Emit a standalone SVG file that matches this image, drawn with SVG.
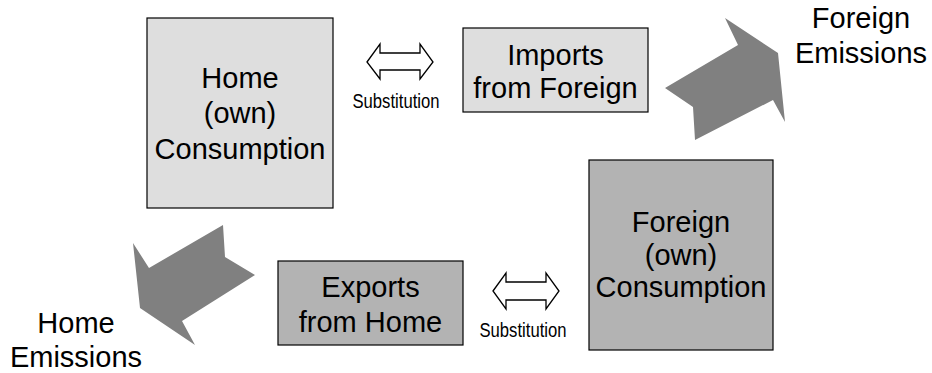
<svg xmlns="http://www.w3.org/2000/svg" width="932" height="373" viewBox="0 0 932 373">
<style>
.box{stroke:#000;stroke-width:1.2}
.light{fill:#dedede}
.dark{fill:#b3b3b3}
.big{fill:#808080;stroke:none}
.dbl{fill:#fff;stroke:#000;stroke-width:1.3;stroke-linejoin:miter}
text{font-family:"Liberation Sans",Arial,sans-serif;fill:#000;text-anchor:middle}
.t{font-size:29px}
.s{font-size:19.5px}
</style>
<rect width="932" height="373" fill="#fff"/>
<g id="home-consumption">
<rect class="box light" x="147" y="18" width="186" height="190"/>
<text class="t" x="240" y="88">Home</text>
<text class="t" x="240" y="123">(own)</text>
<text class="t" x="240" y="159">Consumption</text>
</g>
<g id="imports-from-foreign">
<rect class="box light" x="463" y="28" width="185" height="84"/>
<text class="t" x="555.5" y="65">Imports</text>
<text class="t" x="555.5" y="98">from Foreign</text>
</g>
<g id="foreign-consumption">
<rect class="box dark" x="589" y="160" width="184" height="190"/>
<text class="t" x="681" y="232">Foreign</text>
<text class="t" x="681" y="265">(own)</text>
<text class="t" x="681" y="297">Consumption</text>
</g>
<g id="exports-from-home">
<rect class="box dark" x="278" y="261" width="185" height="84"/>
<text class="t" x="370.5" y="297">Exports</text>
<text class="t" x="370.5" y="332">from Home</text>
</g>
<g id="foreign-emissions">
<text class="t" x="861" y="28">Foreign</text>
<text class="t" x="861" y="63">Emissions</text>
</g>
<g id="home-emissions">
<text class="t" x="76" y="333">Home</text>
<text class="t" x="76" y="367">Emissions</text>
</g>
<g id="connectors">
<polygon class="big" points="725,18 778,53 785,122 773,100 695,140 693,107 665,88 738,45"/>
<polygon class="big" points="133,243 149,268 223,225 225,257 255,275 182,321 195,345 140,308"/>
<polygon class="dbl" points="367,62 380,44 380,53 420,53 420,44 433,62 420,79 420,70 380,70 380,79"/>
<polygon class="dbl" points="493,291 506,273 506,282 546,282 546,273 559,291 546,309 546,300 506,300 506,309"/>
<text class="s" x="396" y="108" textLength="87" lengthAdjust="spacingAndGlyphs">Substitution</text>
<text class="s" x="523" y="337" textLength="87" lengthAdjust="spacingAndGlyphs">Substitution</text>
</g>
</svg>
